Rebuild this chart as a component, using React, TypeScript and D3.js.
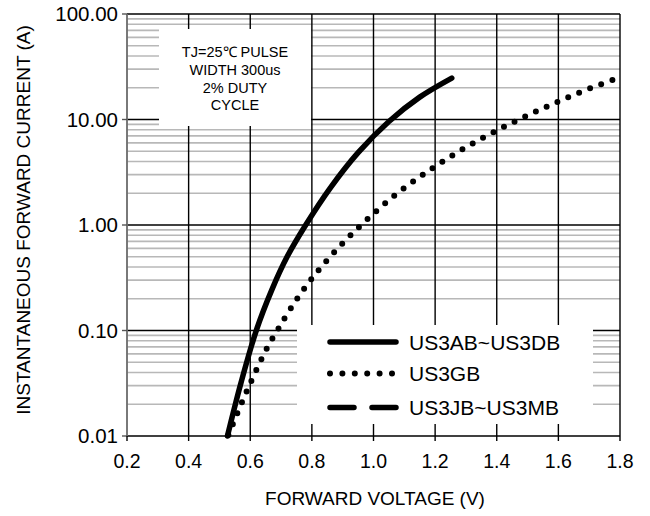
import React, { useEffect, useRef } from 'react';
import * as d3 from 'd3';

// axis ticks
const xTicks = [0.2, 0.4, 0.6, 0.8, 1.0, 1.2, 1.4, 1.6, 1.8];
const yTicks = [0.01, 0.1, 1, 10, 100];
const yTickLabels = ['0.01', '0.10', '1.00', '10.00', '100.00'];

// US3AB~US3DB (solid)
const voltsAD = [0.526, 0.57, 0.62, 0.67, 0.72, 0.78, 0.86, 0.95, 1.05, 1.15, 1.254];
const ampsAD = [0.01, 0.032, 0.101, 0.243, 0.502, 1.0, 2.25, 4.85, 9.57, 16.3, 24.7];

// US3GB (dotted)
const voltsG = [0.529, 0.588, 0.653, 0.692, 0.753, 0.823, 0.9, 0.981, 1.07, 1.162, 1.258, 1.36, 1.462, 1.566, 1.672, 1.781];
const ampsG = [0.0102, 0.0263, 0.0668, 0.105, 0.202, 0.377, 0.671, 1.14, 1.92, 3.02, 4.61, 6.83, 9.68, 13.4, 18.2, 24.0];

// US3JB~US3MB (dashed) - not plotted in the source chart
const voltsJM: number[] = [];
const ampsJM: number[] = [];

const seriesNames = ['US3AB~US3DB', 'US3GB', 'US3JB~US3MB'];
const noteLines = ['TJ=25\u2103 PULSE', 'WIDTH 300us', '2% DUTY', 'CYCLE'];

const FONT = '"Liberation Sans", Arial, sans-serif';

const App = () => {
    const svgRef = useRef<SVGSVGElement>(null);

    useEffect(() => {
        const svg = d3.select(svgRef.current);
        svg.selectAll('*').remove();

        const x = d3.scaleLinear().domain([0.2, 1.8]).range([127, 620]);
        const y = d3.scaleLog().domain([0.01, 100]).range([436, 14]);

        const grid = svg.append('g');

        // minor horizontal grid
        const minors: number[] = [];
        [0.01, 0.1, 1, 10].forEach((d) => {
            for (let k = 2; k <= 9; k++) minors.push(d * k);
        });
        grid.selectAll('line.minor')
            .data(minors)
            .enter()
            .append('line')
            .attr('x1', x(0.2))
            .attr('x2', x(1.8))
            .attr('y1', (d) => y(d))
            .attr('y2', (d) => y(d))
            .attr('stroke', '#b8b8b8')
            .attr('stroke-width', 1.6);

        // vertical grid
        grid.selectAll('line.vx')
            .data(xTicks)
            .enter()
            .append('line')
            .attr('x1', (d) => x(d))
            .attr('x2', (d) => x(d))
            .attr('y1', y(100))
            .attr('y2', y(0.01))
            .attr('stroke', '#000')
            .attr('stroke-width', 1.4);

        // major horizontal grid
        grid.selectAll('line.major')
            .data(yTicks)
            .enter()
            .append('line')
            .attr('x1', x(0.2))
            .attr('x2', x(1.8))
            .attr('y1', (d) => y(d))
            .attr('y2', (d) => y(d))
            .attr('stroke', '#000')
            .attr('stroke-width', 1.6);

        // left axis (gray) + ticks
        svg.append('line')
            .attr('x1', x(0.2)).attr('x2', x(0.2))
            .attr('y1', y(100)).attr('y2', y(0.01))
            .attr('stroke', '#888').attr('stroke-width', 1.5);
        svg.selectAll('line.ytick')
            .data(yTicks)
            .enter()
            .append('line')
            .attr('x1', x(0.2) - 5).attr('x2', x(0.2))
            .attr('y1', (d) => y(d)).attr('y2', (d) => y(d))
            .attr('stroke', '#555').attr('stroke-width', 1.4);

        // bottom ticks
        svg.selectAll('line.xtick')
            .data(xTicks)
            .enter()
            .append('line')
            .attr('x1', (d) => x(d)).attr('x2', (d) => x(d))
            .attr('y1', y(0.01)).attr('y2', y(0.01) + 5)
            .attr('stroke', '#000').attr('stroke-width', 1.4);

        // annotation box
        svg.append('rect')
            .attr('x', 159).attr('y', 29).attr('width', 152).attr('height', 97)
            .attr('fill', '#fff');
        svg.selectAll('text.note')
            .data(noteLines)
            .enter()
            .append('text')
            .attr('x', 235)
            .attr('y', (d, i) => 57 + i * 17.8)
            .attr('text-anchor', 'middle')
            .attr('font-family', FONT)
            .attr('font-size', 14.5)
            .attr('fill', '#000')
            .text((d) => d);

        // legend box
        svg.append('rect')
            .attr('x', 297).attr('y', 325).attr('width', 296).attr('height', 99)
            .attr('fill', '#fff');

        const line = d3
            .line<[number, number]>()
            .x((d) => x(d[0]))
            .y((d) => y(d[1]))
            .curve(d3.curveCatmullRom.alpha(0.5));

        const series = [
            { v: voltsAD, a: ampsAD, dash: null as string | null, w: 5.5 },
            { v: voltsG, a: ampsG, dash: '0 11.8', w: 6 },
            { v: voltsJM, a: ampsJM, dash: '24 14', w: 5.5 },
        ];

        series.forEach((s) => {
            if (!s.v.length) return;
            const p = svg.append('path')
                .datum(s.v.map((v, i) => [v, s.a[i]] as [number, number]))
                .attr('fill', 'none')
                .attr('stroke', '#000')
                .attr('stroke-width', s.w)
                .attr('stroke-linecap', 'round')
                .attr('stroke-linejoin', 'round')
                .attr('d', line);
            if (s.dash) p.attr('stroke-dasharray', s.dash);
        });

        // legend entries
        const legY = [342, 373.5, 407.5];
        series.forEach((s, i) => {
            const l = svg.append('line')
                .attr('x1', 330)
                .attr('x2', i === 1 ? 392 : 396)
                .attr('y1', legY[i]).attr('y2', legY[i])
                .attr('stroke', '#000')
                .attr('stroke-width', s.w)
                .attr('stroke-linecap', 'round');
            if (i === 1) l.attr('stroke-dasharray', '0 12.4');
            if (i === 2) l.attr('stroke-dasharray', '24 18');
            svg.append('text')
                .attr('x', 409)
                .attr('y', legY[i] + 7.5)
                .attr('font-family', FONT)
                .attr('font-size', 21)
                .attr('fill', '#000')
                .text(seriesNames[i]);
        });

        // tick labels
        svg.selectAll('text.ylab')
            .data(yTicks)
            .enter()
            .append('text')
            .attr('x', 118)
            .attr('y', (d) => y(d) + 7)
            .attr('text-anchor', 'end')
            .attr('font-family', FONT)
            .attr('font-size', 20.5)
            .attr('fill', '#000')
            .text((d, i) => yTickLabels[i]);

        svg.selectAll('text.xlab')
            .data(xTicks)
            .enter()
            .append('text')
            .attr('x', (d) => x(d))
            .attr('y', 468)
            .attr('text-anchor', 'middle')
            .attr('font-family', FONT)
            .attr('font-size', 19.5)
            .attr('fill', '#000')
            .text((d) => d.toFixed(1));

        // axis titles
        svg.append('text')
            .attr('x', 375)
            .attr('y', 505)
            .attr('text-anchor', 'middle')
            .attr('font-family', FONT)
            .attr('font-size', 19)
            .attr('fill', '#000')
            .text('FORWARD VOLTAGE (V)');

        svg.append('text')
            .attr('transform', 'translate(30, 220) rotate(-90)')
            .attr('text-anchor', 'middle')
            .attr('font-family', FONT)
            .attr('font-size', 19)
            .attr('fill', '#000')
            .text('INSTANTANEOUS FORWARD CURRENT (A)');
    }, []);

    return (
        <svg
            ref={svgRef}
            width={650}
            height={516}
            style={{ position: 'absolute', left: 0, top: 0, background: '#fff' }}
        />
    );
};

export default App;
